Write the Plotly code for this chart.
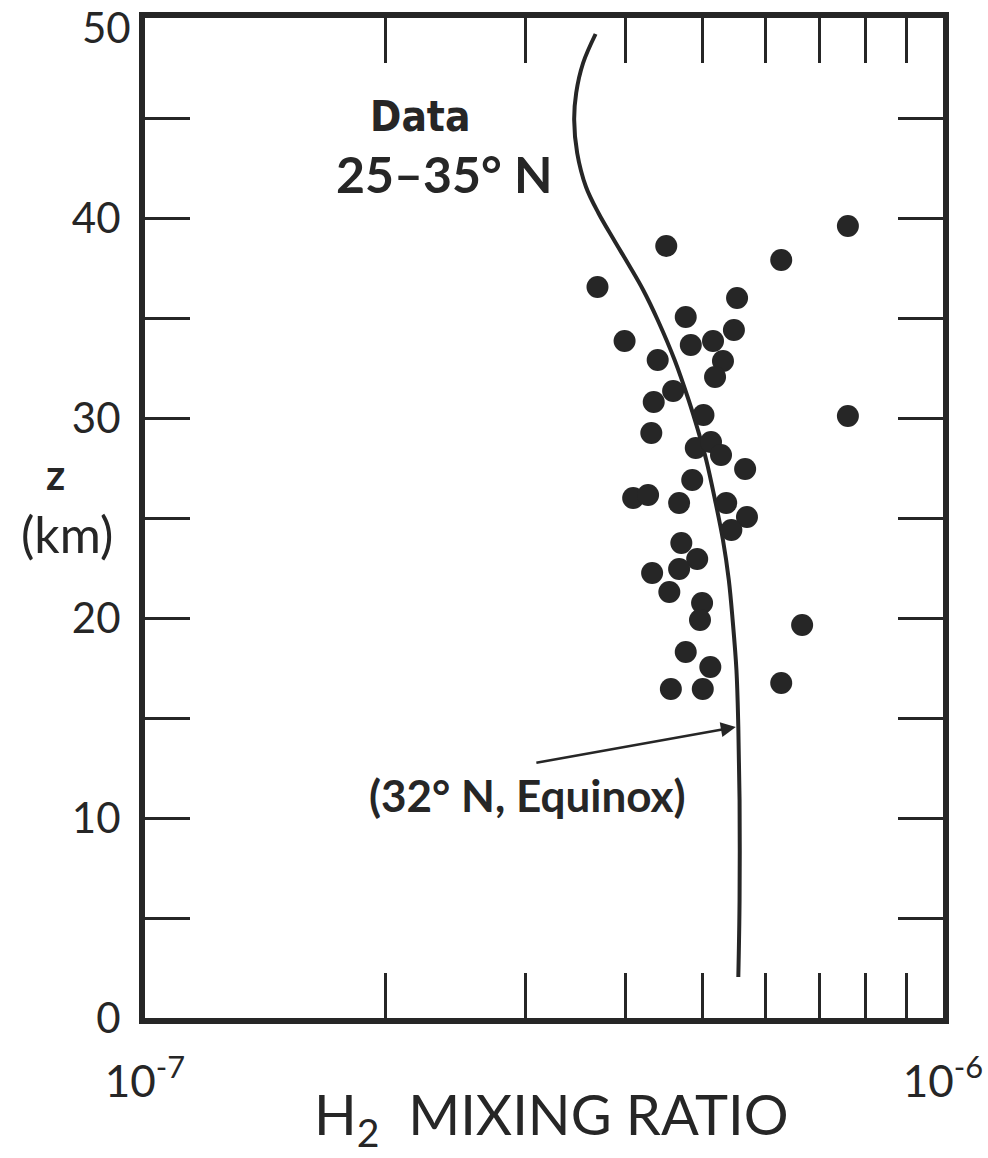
import numpy as np
import plotly.graph_objects as go

# Data points (H2 mixing ratio, altitude km)
data_x = [7.60e-7, 4.50e-7, 6.27e-7, 3.69e-7, 5.52e-7, 4.76e-7, 5.47e-7, 3.99e-7,
          4.83e-7, 5.15e-7, 4.39e-7, 5.30e-7, 5.18e-7, 4.59e-7, 4.34e-7, 4.31e-7,
          5.01e-7, 7.60e-7, 4.90e-7, 5.12e-7, 5.27e-7, 5.65e-7, 4.85e-7, 4.09e-7,
          4.27e-7, 4.67e-7, 5.35e-7, 5.68e-7, 5.43e-7, 4.70e-7, 4.92e-7, 4.67e-7,
          4.32e-7, 4.54e-7, 4.99e-7, 4.96e-7, 6.66e-7, 4.76e-7, 5.11e-7, 4.56e-7,
          5.00e-7, 6.27e-7]
data_z = [39.6, 38.6, 37.9, 36.55, 36.0, 35.05, 34.4, 33.85,
          33.65, 33.85, 32.9, 32.85, 32.05, 31.35, 30.8, 29.25,
          30.15, 30.1, 28.5, 28.8, 28.15, 27.45, 26.9, 26.0,
          26.15, 25.75, 25.75, 25.05, 24.4, 23.75, 22.95, 22.45,
          22.25, 21.3, 20.75, 19.9, 19.65, 18.3, 17.55, 16.45,
          16.45, 16.75]

# Model curve (32 N, Equinox)
model_x = [3.67e-7, 3.54e-7, 3.47e-7, 3.45e-7, 3.48e-7, 3.57e-7, 3.70e-7, 3.87e-7,
           4.04e-7, 4.21e-7, 4.39e-7, 4.61e-7, 4.80e-7, 4.93e-7, 5.05e-7, 5.18e-7,
           5.30e-7, 5.39e-7, 5.45e-7, 5.51e-7, 5.54e-7, 5.56e-7, 5.56e-7, 5.54e-7]
model_z = [49.2, 47.75, 46.25, 44.9, 43.25, 41.55, 40.25, 38.9,
           37.65, 36.4, 34.9, 32.9, 30.9, 29.4, 27.9, 25.9,
           23.9, 21.9, 19.9, 17.4, 14.55, 10.9, 5.9, 2.05]

x_tickvals = [1e-7, 2e-7, 3e-7, 4e-7, 5e-7, 6e-7, 7e-7, 8e-7, 9e-7, 1e-6]
x_ticktext = ["10<sup>-7</sup>", "", "", "", "", "", "", "", "", "10<sup>-6</sup>"]
y_tickvals = [0, 5, 10, 15, 20, 25, 30, 35, 40, 45, 50]
y_ticktext = ["0", "", "10", "", "20", "", "30", "", "40", "", ""]
top_label = "50"
top_value = 50

INK = "#262626"
FONT = "Lato"

fig = go.Figure()
fig.add_trace(go.Scatter(x=model_x, y=model_z, mode="lines",
                         line=dict(color=INK, width=4, shape="spline", smoothing=1.0),
                         showlegend=False))
fig.add_trace(go.Scatter(x=data_x, y=data_z, mode="markers",
                         marker=dict(color=INK, size=22, line=dict(width=0)),
                         showlegend=False))

fig.update_layout(
    width=988, height=1158,
    margin=dict(l=145, r=45, t=18, b=140),
    paper_bgcolor="white", plot_bgcolor="white",
    font=dict(family=FONT, color=INK),
    xaxis=dict(type="log", range=[-7, -6], tickvals=x_tickvals, ticktext=x_ticktext,
               ticks="inside", ticklen=45, tickwidth=3, tickcolor=INK,
               showline=True, linewidth=6, linecolor=INK, mirror="ticks",
               showgrid=False, zeroline=False, ticklabeloverflow="allow",
               automargin=False,
               tickfont=dict(size=44, family=FONT, color=INK), ticklabelstandoff=20),
    yaxis=dict(range=[0, 50], tickvals=y_tickvals, ticktext=y_ticktext,
               ticks="inside", ticklen=45, tickwidth=3, tickcolor=INK,
               showline=True, linewidth=6, linecolor=INK, mirror="ticks",
               showgrid=False, zeroline=False, ticklabeloverflow="allow",
               automargin=False,
               tickfont=dict(size=42, family=FONT, color=INK), ticklabelstandoff=10),
)

# Top y tick label, nudged down slightly so it stays inside the page
fig.add_annotation(text=top_label, xref="paper", yref="y", x=0, y=top_value,
                   xanchor="right", yanchor="middle", xshift=-12, yshift=-9,
                   showarrow=False, font=dict(size=42, family=FONT, color=INK))

# Axis titles
fig.add_annotation(text="H<sub>2</sub>  MIXING RATIO", xref="paper", yref="paper",
                   x=0.509, y=-0.099, showarrow=False, xanchor="center", yanchor="middle",
                   font=dict(size=56, family=FONT, color=INK))
fig.add_annotation(text="<b>z</b>", xref="paper", yref="paper",
                   x=(55 - 145) / 798, y=(1018 - 474) / 1000, showarrow=False,
                   xanchor="center", yanchor="middle",
                   font=dict(size=42, family=FONT, color=INK))
fig.add_annotation(text="(km)", xref="paper", yref="paper",
                   x=(67 - 145) / 798, y=(1018 - 534) / 1000, showarrow=False,
                   xanchor="center", yanchor="middle",
                   font=dict(size=50, family=FONT, color=INK))

# Labels in plot
fig.add_annotation(text="<b>Data</b>", xref="paper", yref="paper",
                   x=(420 - 145) / 798, y=(1018 - 117) / 1000, showarrow=False,
                   xanchor="center", yanchor="middle",
                   font=dict(size=42, family="DejaVu Sans Condensed, DejaVu Sans", color=INK))
fig.add_annotation(text="<b>25–35° N</b>", xref="paper", yref="paper",
                   x=(444 - 145) / 798, y=(1018 - 174) / 1000, showarrow=False,
                   xanchor="center", yanchor="middle",
                   font=dict(size=50, family=FONT, color=INK))
fig.add_annotation(text="<b>(32° N, Equinox)</b>", xref="paper", yref="paper",
                   x=(527 - 145) / 798, y=(1018 - 795) / 1000, showarrow=False,
                   xanchor="center", yanchor="middle",
                   font=dict(size=44, family=FONT, color=INK))

# Arrow pointing to the model curve
fig.add_annotation(x=np.log10(5.50e-7), y=14.55, ax=np.log10(3.08e-7), ay=12.75,
                   xref="x", yref="y", axref="x", ayref="y", text="",
                   showarrow=True, arrowhead=2, arrowsize=1.2, arrowwidth=2.5,
                   arrowcolor=INK)

fig.write_html("out.html")
